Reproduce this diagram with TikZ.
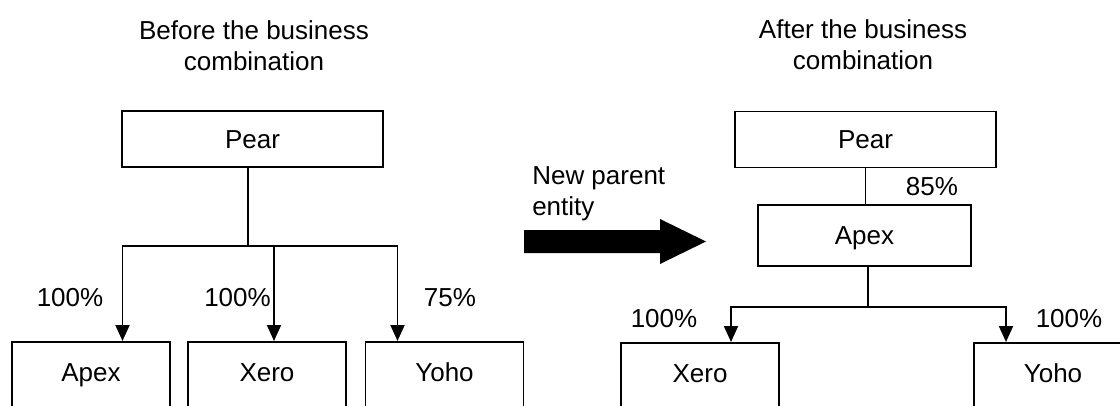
\documentclass[tikz,border=0pt]{standalone}
\usepackage{fontspec}
\setmainfont{Liberation Sans}
\usetikzlibrary{arrows.meta,calc}
\tikzset{
  txt/.style={font=\fontsize{19.5}{23.5}\selectfont, inner sep=0pt},
  title/.style={txt, align=center},
  note/.style={txt, align=left, anchor=west},
  pct/.style={txt},
  topbox/.style={txt, draw, line width=1.4pt, minimum width=195.75pt, minimum height=42pt, text height=14pt, text depth=0pt},
  midbox/.style={txt, draw, line width=1.4pt, minimum width=159.75pt, minimum height=45.75pt, text height=14pt, text depth=0pt},
  lowbox/.style={txt, draw, line width=1.4pt, anchor=north, minimum width=118.5pt, inner ysep=15.5pt, text height=14pt, text depth=60pt},
  line/.style={line width=1.4pt},
  arr/.style={line, -{Triangle[width=10.5pt, length=12pt]}}
}
\begin{document}
\begin{tikzpicture}[x=0.75pt, y=-0.75pt]
  \useasboundingbox (0,0) rectangle (1120,406);
  \clip (0,0) rectangle (1120,406);
  % before the combination
  \node[title] (titleL) at (254,46) {Before the business\\combination};
  \node[topbox] (pearL) at (252.5,139) {Pear};
  \node[lowbox] (apexL) at (91,341) {Apex};
  \node[lowbox] (xeroL) at (267,341) {Xero};
  \node[lowbox] (yohoL) at (444.5,341) {Yoho};
  \coordinate (forkL) at (248,246);
  \draw[line] (pearL.south -| forkL) -- (forkL);
  \draw[arr] (forkL) -| ($(apexL.north)+(31.5,0)$);
  \draw[arr] (forkL) -| ($(xeroL.north)+(7,0)$);
  \draw[arr] (forkL) -| ($(yohoL.north)+(-47,0)$);
  \node[pct] (pctApexL) at (70,298) {100\%};
  \node[pct] (pctXeroL) at (237.5,298) {100\%};
  \node[pct] (pctYohoL) at (450,298) {75\%};
  % block arrow
  \node[note] (note) at (532,194) {New parent\\entity};
  \fill (524,230) -- (660,230) -- (660,219) -- (706,241.5) -- (660,264)
    -- (660,253) -- (524,253) -- cycle;
  % after the combination
  \node[title] (titleR) at (863,45) {After the business\\combination};
  \node[topbox] (pearR) at (865.5,139.5) {Pear};
  \node[midbox] (apexR) at (864.5,235.5) {Apex};
  \draw[line] (pearR.south) -- (pearR.south |- apexR.north);
  \node[pct] (pctApexR) at (932,187) {85\%};
  \node[lowbox] (xeroR) at (700,342) {Xero};
  \node[lowbox] (yohoR) at (1053,342) {Yoho};
  \coordinate (forkR) at (868,307);
  \draw[line] (apexR.south -| forkR) -- (forkR);
  \draw[arr] (forkR) -| ($(xeroR.north)+(31,0)$);
  \draw[arr] (forkR) -| ($(yohoR.north)+(-47,0)$);
  \node[pct] (pctXeroR) at (664,319) {100\%};
  \node[pct] (pctYohoR) at (1069,319) {100\%};
\end{tikzpicture}
\end{document}
